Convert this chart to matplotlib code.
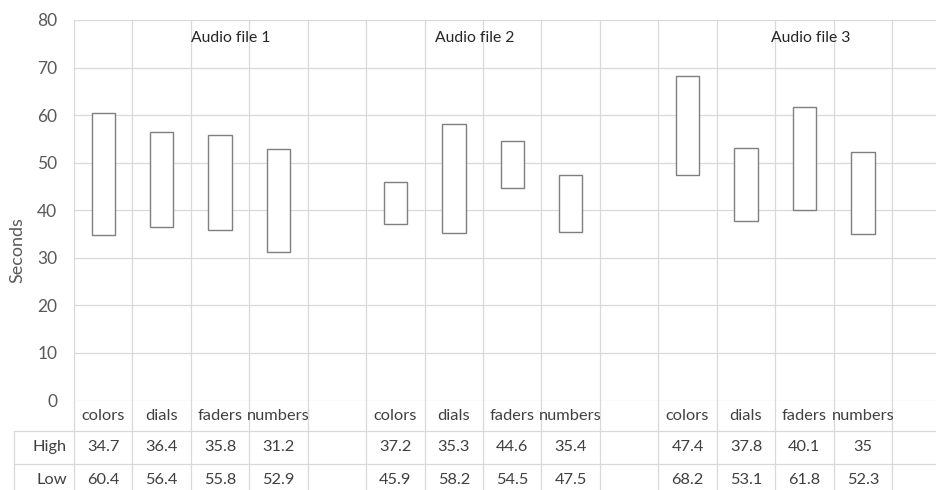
import matplotlib
matplotlib.use("Agg")
import matplotlib.pyplot as plt

# ---------------- data ----------------
categories = ["colors", "dials", "faders", "numbers"]
groups = ["Audio file 1", "Audio file 2", "Audio file 3"]
high = [[34.7, 36.4, 35.8, 31.2],
        [37.2, 35.3, 44.6, 35.4],
        [47.4, 37.8, 40.1, 35]]
low = [[60.4, 56.4, 55.8, 52.9],
       [45.9, 58.2, 54.5, 47.5],
       [68.2, 53.1, 61.8, 52.3]]
row_labels = ["High", "Low"]
yticks = [0, 10, 20, 30, 40, 50, 60, 70, 80]
ylabel = "Seconds"

# ---------------- layout ----------------
plt.rcParams['font.family'] = ['Lato', 'DejaVu Sans']
W, H = 937, 490
PL, PR, PT, PB = 74, 950.5, 20, 400.5
n_per = len(categories) + 1
n_slots = len(groups) * n_per
slot_w = (PR - PL) / n_slots
GRID = '#d9d9d9'
TXT = '#404040'

fig = plt.figure(figsize=(W / 100, H / 100), dpi=100)
ax = fig.add_axes([PL / W, 1 - PB / H, (PR - PL) / W, (PB - PT) / H])
ax.set_xlim(0, n_slots)
ax.set_ylim(0, 80)
for s in ax.spines.values():
    s.set_visible(False)
ax.set_xticks([])
ax.set_yticks(yticks)
ax.tick_params(axis='y', length=0, pad=12, labelsize=12.5, labelcolor='#595959')
for y in yticks:
    ax.axhline(y, color=GRID, lw=0.9, zorder=1)
for i in range(n_slots + 1):
    ax.axvline(i, color=GRID, lw=0.9, zorder=1)

xs, bottoms, heights = [], [], []
for g in range(len(groups)):
    for c in range(len(categories)):
        xs.append(g * n_per + c + 0.5)
        bottoms.append(high[g][c])
        heights.append(low[g][c] - high[g][c])
ax.bar(xs, heights, bottom=bottoms, width=0.4, facecolor='white',
       edgecolor='#7f7f7f', linewidth=1.0, zorder=3)

label_x = [2.68, 6.86, 12.6]
for g, name in enumerate(groups):
    ax.text(label_x[g], 76.2, name, ha='center', va='center',
            fontsize=11.3, color='#262626')

fig.text(17 / W, 1 - 250 / H, ylabel, rotation=90, ha='center', va='center',
         fontsize=13, color='#595959')

# ---------------- data table ----------------
tax = fig.add_axes([0, 0, PR / W, (H - PB) / H])
tax.set_xlim(-PL / slot_w, n_slots)
tax.set_ylim(H, PB)
tax.axis('off')
x_left = (14 - PL) / slot_w
row_top = 431
row_mid = 464
for i in range(n_slots + 1):
    tax.plot([i, i], [PB, H], color=GRID, lw=0.9, clip_on=False)
tax.plot([x_left, x_left], [row_top, H], color=GRID, lw=0.9)
for y in (row_top, row_mid):
    tax.plot([x_left, n_slots], [y, y], color=GRID, lw=0.9)

for g in range(len(groups)):
    for c, cat in enumerate(categories):
        x = g * n_per + c + 0.5
        tax.text(x, 416, cat, ha='center', va='center', fontsize=11.8, color=TXT)
        tax.text(x, 447, f"{high[g][c]:g}", ha='center', va='center',
                 fontsize=11.8, color=TXT)
        tax.text(x, 480, f"{low[g][c]:g}", ha='center', va='center',
                 fontsize=11.8, color=TXT)
rx = (67 - PL) / slot_w
tax.text(rx, 447, row_labels[0], ha='right', va='center', fontsize=11.8, color=TXT)
tax.text(rx, 480, row_labels[1], ha='right', va='center', fontsize=11.8, color=TXT)

fig.savefig('out.png', dpi=100)
